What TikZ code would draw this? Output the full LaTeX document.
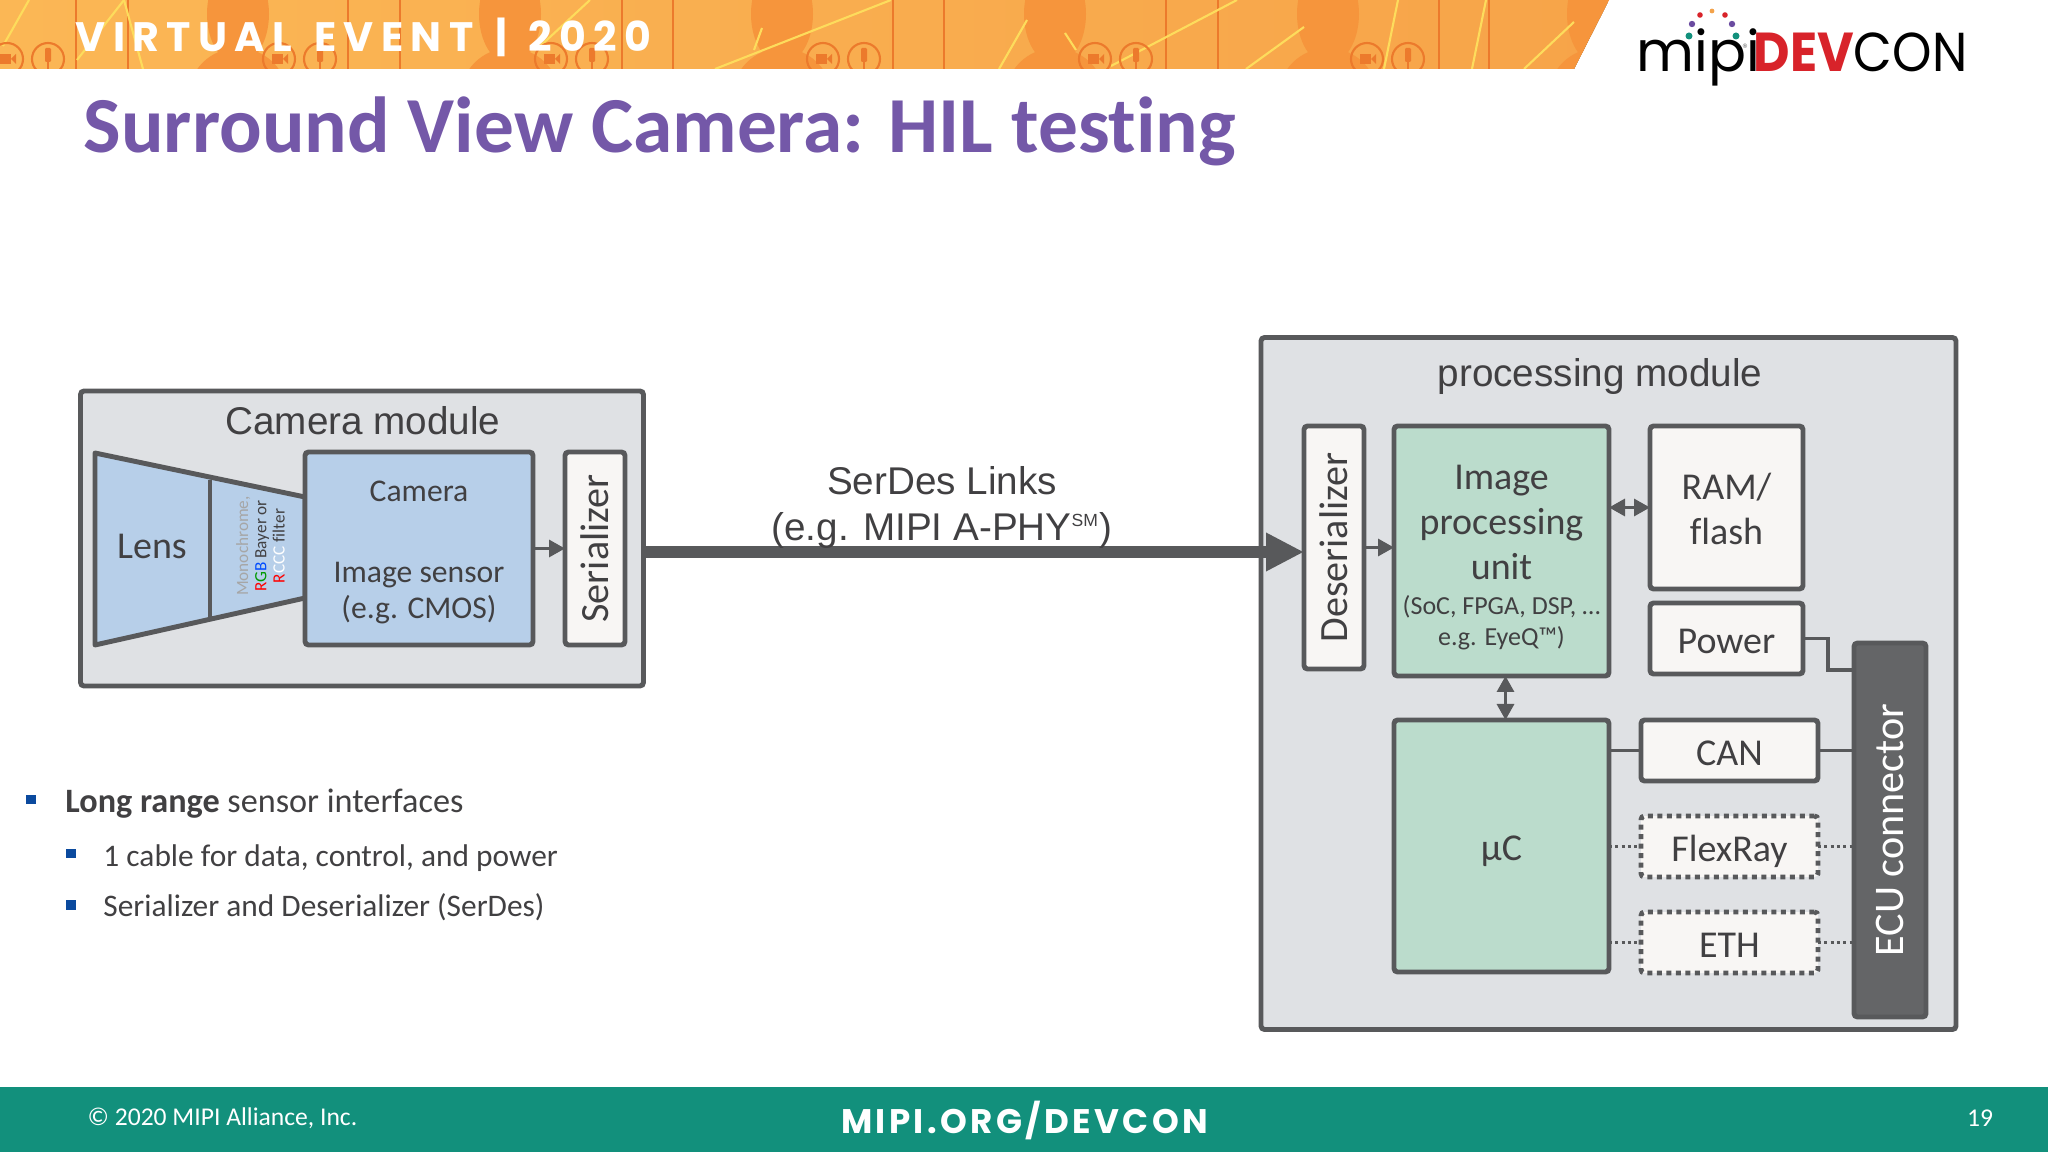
\documentclass[tikz,border=0pt]{standalone}
\usepackage{fontspec}
\setmainfont[Ligatures=NoCommon]{Carlito}
\newfontfamily\arialfont{Liberation Sans}
\newfontfamily\bannerfont[LetterSpace=18,WordSpace=1.35]{Poppins}
\newfontfamily\footfont[LetterSpace=10]{Poppins}
\newfontfamily\logofont{Poppins}
\usetikzlibrary{arrows.meta,positioning}
\definecolor{edgegray}{HTML}{58595B}
\definecolor{textgray}{HTML}{414042}
\definecolor{modfill}{HTML}{DFE1E4}
\definecolor{bluefill}{HTML}{B7CFE9}
\definecolor{greenfill}{HTML}{BBDCCC}
\definecolor{paper}{HTML}{F8F6F4}
\definecolor{ecufill}{HTML}{646567}
\definecolor{titlepurple}{HTML}{7458A8}
\definecolor{footteal}{HTML}{12907C}
\definecolor{bulletblue}{HTML}{0B4A9E}
\definecolor{bandlight}{HTML}{FBB755}
\definecolor{banddark}{HTML}{F7A449}
\definecolor{headorange}{HTML}{F6953C}
\definecolor{lineorange}{HTML}{EC7A2C}
\definecolor{lineyellow}{HTML}{FDDC5C}
\definecolor{logored}{HTML}{D8232A}
\definecolor{logopurple}{HTML}{6A4BA0}
\definecolor{logoteal}{HTML}{12907C}
\definecolor{logoorange}{HTML}{F3A24A}
\begin{document}
\begin{tikzpicture}[>={Triangle[length=0.16cm,width=0.17cm]},node distance=0.3cm]
  \tikzstyle{box}=[draw=edgegray,line width=1.4pt,rounded corners=1pt,inner sep=0pt,outer sep=0pt,align=center,text=textgray,font=\fontsize{10.8}{12.8}\selectfont]
  \tikzstyle{lowtext}=[execute at begin node={\rule[-2.2pt]{0pt}{12.9pt}}]
  \tikzstyle{modbox}=[box,fill=modfill]
  \tikzstyle{whitebox}=[box,fill=paper]
  \tikzstyle{busbox}=[whitebox,lowtext,minimum width=1.77cm,minimum height=0.61cm]
  \tikzstyle{dotbox}=[busbox,dash pattern=on 0.05cm off 0.045cm]
  \tikzstyle{greenbox}=[box,fill=greenfill]
  \tikzstyle{modlabel}=[text=textgray,font=\arialfont\fontsize{11}{13.3}\selectfont,align=center]
  \tikzstyle{conn}=[draw=edgegray,line width=0.9pt]
  \tikzstyle{dotconn}=[conn,dash pattern=on 0.9pt off 0.9pt]
  \tikzstyle{bulletsq}=[fill=bulletblue,minimum size=0.095cm,inner sep=0pt,outer sep=0pt]
  \tikzstyle{bullettext}=[text=textgray,font=\fontsize{8.93}{11}\selectfont,inner sep=0pt,anchor=west]
  \useasboundingbox (0,0) rectangle (20.48,-11.52);
  % top band
  \begin{scope}
    \clip (0,0) -- (16.09,0) -- (15.74,-0.69) -- (0,-0.69) -- cycle;
    \fill[left color=bandlight,right color=banddark] (0,0) rectangle (16.09,-0.69);
    \foreach \x in {2.38,5.10,7.82,10.55,13.28,15.98} {
      \fill[headorange] (\x,-0.14) ellipse (0.31 and 0.5);
      \fill[headorange] (\x,-0.98) ellipse (0.5 and 0.5);
    }
    \foreach \x in {0.76,1.28,3.48,4.00,6.22,6.73,8.93,9.44,11.66,12.18,14.39,14.89}
      \draw[lineorange,line width=0.7pt] (\x,0) -- (\x,-0.69);
    \foreach \xa/\ya/\xb/\yb in {0.03/-0.46/0.29/0,0.77/-0.60/1.24/0,1.24/0/1.43/-0.69,5.36/-0.50/5.90/0,7.15/-0.69/8.91/0,7.54/-0.50/7.62/-0.28,9.99/-0.69/10.27/-0.20,10.65/-0.33/10.76/-0.50,11.11/-0.66/12.37/0,12.46/-0.69/13.04/-0.27,13.84/-0.69/13.98/0,14.72/-0.69/14.86/0,15.24/-0.69/15.74/-0.22}
      \draw[lineyellow,line width=0.6pt] (\xa,\ya) -- (\xb,\yb);
    \foreach \x in {0.07,2.79,5.51,8.23,10.95,13.67} {
      \draw[lineorange,line width=0.6pt] (\x,-0.59) circle (0.16);
      \fill[lineorange] (\x-0.07,-0.64) rectangle (\x+0.04,-0.54);
      \fill[lineorange] (\x+0.04,-0.59) -- (\x+0.09,-0.64) -- (\x+0.09,-0.54) -- cycle;
      \draw[lineorange,line width=0.6pt] (\x+0.41,-0.59) circle (0.16);
      \fill[lineorange,rounded corners=0.3pt] (\x+0.38,-0.62) rectangle (\x+0.44,-0.48);
      \draw[lineorange,line width=0.5pt] (\x+0.41,-0.62) -- (\x+0.41,-0.69);
    }
  \end{scope}
  \node[anchor=west,inner sep=0pt,text=white,font=\bannerfont\bfseries\fontsize{11.7}{12}\selectfont] (bandtext) at (0.75,-0.375) {VIRTUAL EVENT | 2020};
  % logo
  \foreach \x/\y/\c/\r in {16.89/-0.36/logoteal/0.035,17.36/-0.36/logoteal/0.035,16.92/-0.24/logopurple/0.032,17.32/-0.24/logopurple/0.032,17.00/-0.15/logored/0.028,17.25/-0.15/logored/0.028,17.12/-0.11/logoorange/0.024}
    \fill[\c] (\x,\y) circle (\r);
  \node[anchor=base west,inner sep=0pt,font=\logofont\fontsize{16}{16}\selectfont] (logomipi) at (16.36,-0.72) {mipi};
  \node[anchor=base west,inner sep=0pt,xscale=0.915,font=\logofont\fontsize{15.6}{16}\selectfont] (logodev) at (17.53,-0.72) {{\bfseries\color{logored}DEV}CON};
  \node[inner sep=0pt,text=gray,font=\logofont\fontsize{3}{3}\selectfont] (logoreg) at (17.45,-0.48) {\textregistered};
  % title
  \node[anchor=west,inner sep=0pt,text=titlepurple,font=\bfseries\fontsize{22.6}{26}\selectfont] (title) at (0.83,-1.315) {Surround View Camera: HIL testing};
  % camera module
  \node[modbox,minimum width=5.63cm,minimum height=2.95cm] (cammod) at (3.62,-5.385) {};
  \node[modlabel] (camlabel) at (3.63,-4.21) {Camera module};
  \draw[line width=1.4pt,draw=edgegray,fill=bluefill,line join=round] (0.95,-4.53) -- (3.05,-4.97) -- (3.05,-5.98) -- (0.95,-6.45) -- cycle;
  \draw[conn] (2.10,-4.80) -- (2.10,-6.17);
  \node[text=textgray,font=\fontsize{10.8}{12}\selectfont] (lens) at (1.52,-5.46) {Lens};
  \node[inner sep=0pt,align=center,font=\fontsize{4.9}{5.6}\selectfont] (filter) at (2.625,-5.46) {\rotatebox{90}{\begin{tabular}{@{}c@{}}\textcolor{gray!70}{Monochrome,}\\[-0.4pt]\textcolor{red}{R}\textcolor{green!60!black}{G}\textcolor{blue!70!cyan}{B} \textcolor{textgray}{Bayer or}\\[-0.4pt]\textcolor{red}{R}\textcolor{white}{CCC} \textcolor{textgray}{filter}\end{tabular}}};
  \node[box,fill=bluefill,minimum width=2.28cm,minimum height=1.93cm,font=\fontsize{9}{10.2}\selectfont] (camera) at (4.19,-5.485) {\rule{0pt}{8.1pt}Camera\\[12.8pt]Image sensor\\(e.g. CMOS)};
  \node[whitebox,right=0.32cm of camera,minimum width=0.60cm,minimum height=1.93cm,font=\fontsize{11.4}{12}\selectfont] (ser) {\rotatebox{90}{Serializer}};
  % processing module
  \node[modbox,minimum width=6.95cm,minimum height=6.92cm] (procmod) at (16.085,-6.835) {};
  \node[modlabel] (proclabel) at (16.00,-3.77) {processing module};
  \node[greenbox,minimum width=2.15cm,minimum height=2.50cm] (ipu) at (15.015,-5.51) {\rule{0pt}{10.5pt}Image\\processing\\unit\\[-2.8pt]\fontsize{7.4}{8.8}\selectfont (SoC, FPGA, DSP, …\\[-4pt]\fontsize{7.4}{8.8}\selectfont e.g. EyeQ™)};
  \node[whitebox,left=0.30cm of ipu.north west,anchor=north east,minimum width=0.60cm,minimum height=2.43cm,font=\fontsize{11.4}{12}\selectfont] (deser) {\rotatebox{90}{Deserializer}};
  \node[whitebox,right=0.41cm of ipu.north east,anchor=north west,minimum width=1.53cm,minimum height=1.63cm] (ram) {\rule{0pt}{8.2pt}RAM/\\flash};
  \node[whitebox,lowtext,below=0.14cm of ram,minimum width=1.53cm,minimum height=0.71cm] (power) {Power};
  \node[greenbox,lowtext,below=0.44cm of ipu,minimum width=2.15cm,minimum height=2.52cm] (uc) {µC};
  \node[busbox,right=0.32cm of uc.north east,anchor=north west] (can) {CAN};
  \node[dotbox,below=0.35cm of can] (flex) {FlexRay};
  \node[dotbox,below=0.35cm of flex] (eth) {ETH};
  \node[box,fill=ecufill,text=white,minimum width=0.72cm,minimum height=3.74cm,font=\fontsize{12}{12}\selectfont] (ecu) at (18.90,-8.30) {\rotatebox{90}{ECU connector}};
  % connectors
  \draw[conn,->] (camera.east) -- (ser.west);
  \draw[conn,->] (deser.east) -- (ipu.west |- deser.east);
  \draw[conn,<->] (ipu.east |- ram.west) -- (ram.west);
  \draw[conn,<->] ([xshift=0.04cm]ipu.south) -- ([xshift=0.04cm]uc.north);
  \coordinate (ecuin) at (18.54,-6.70);
  \draw[conn] (power.east) -- ++(0.25,0) |- (ecuin);
  \draw[conn] (uc.east |- can.west) -- (can.west);
  \draw[conn] (can.east) -- (ecu.west |- can.east);
  \draw[dotconn] (uc.east |- flex.west) -- (flex.west);
  \draw[dotconn] (flex.east) -- (ecu.west |- flex.east);
  \draw[dotconn] (uc.east |- eth.west) -- (eth.west);
  \draw[dotconn] (eth.east) -- (ecu.west |- eth.east);
  % link between the modules
  \coordinate (linkend) at ([yshift=-0.045cm]deser.west);
  \draw[line width=0.12cm,draw=edgegray,-{Triangle[length=0.38cm,width=0.36cm]}] (cammod.east |- linkend) -- (linkend);
  \node[modlabel] (linklabel) at (9.42,-5.075) {SerDes Links\\(e.g. MIPI A-PHY\textsuperscript{\fontsize{5}{5}\selectfont SM})};
  % bullets
  \node[bulletsq] (b1) at (0.31,-7.995) {};
  \node[bullettext,right=0.29cm of b1,anchor=west,yshift=-0.045cm,font=\fontsize{9.73}{12}\selectfont] (t1) {\textbf{Long range} sensor interfaces};
  \node[bulletsq] (b2) at (0.71,-8.535) {};
  \node[bullettext,right=0.27cm of b2,anchor=west,yshift=-0.045cm] (t2) {1 cable for data, control, and power};
  \node[bulletsq] (b3) at (0.71,-9.05) {};
  \node[bullettext,right=0.27cm of b3,anchor=west,yshift=-0.02cm] (t3) {Serializer and Deserializer (SerDes)};
  % footer
  \fill[footteal] (0,-10.87) rectangle (20.48,-11.52);
  \node[anchor=west,inner sep=0pt,text=white,font=\fontsize{7.28}{10}\selectfont] (copyr) at (0.87,-11.18) {© 2020 MIPI Alliance, Inc.};
  \node[inner sep=0pt,text=white,font=\footfont\bfseries\fontsize{9.7}{10}\selectfont] (foottext) at (10.245,-11.20) {MIPI.ORG/DEVCON};
  \node[inner sep=0pt,text=white,font=\fontsize{7.28}{10}\selectfont] (pagenum) at (19.80,-11.18) {19};
\end{tikzpicture}
\end{document}
